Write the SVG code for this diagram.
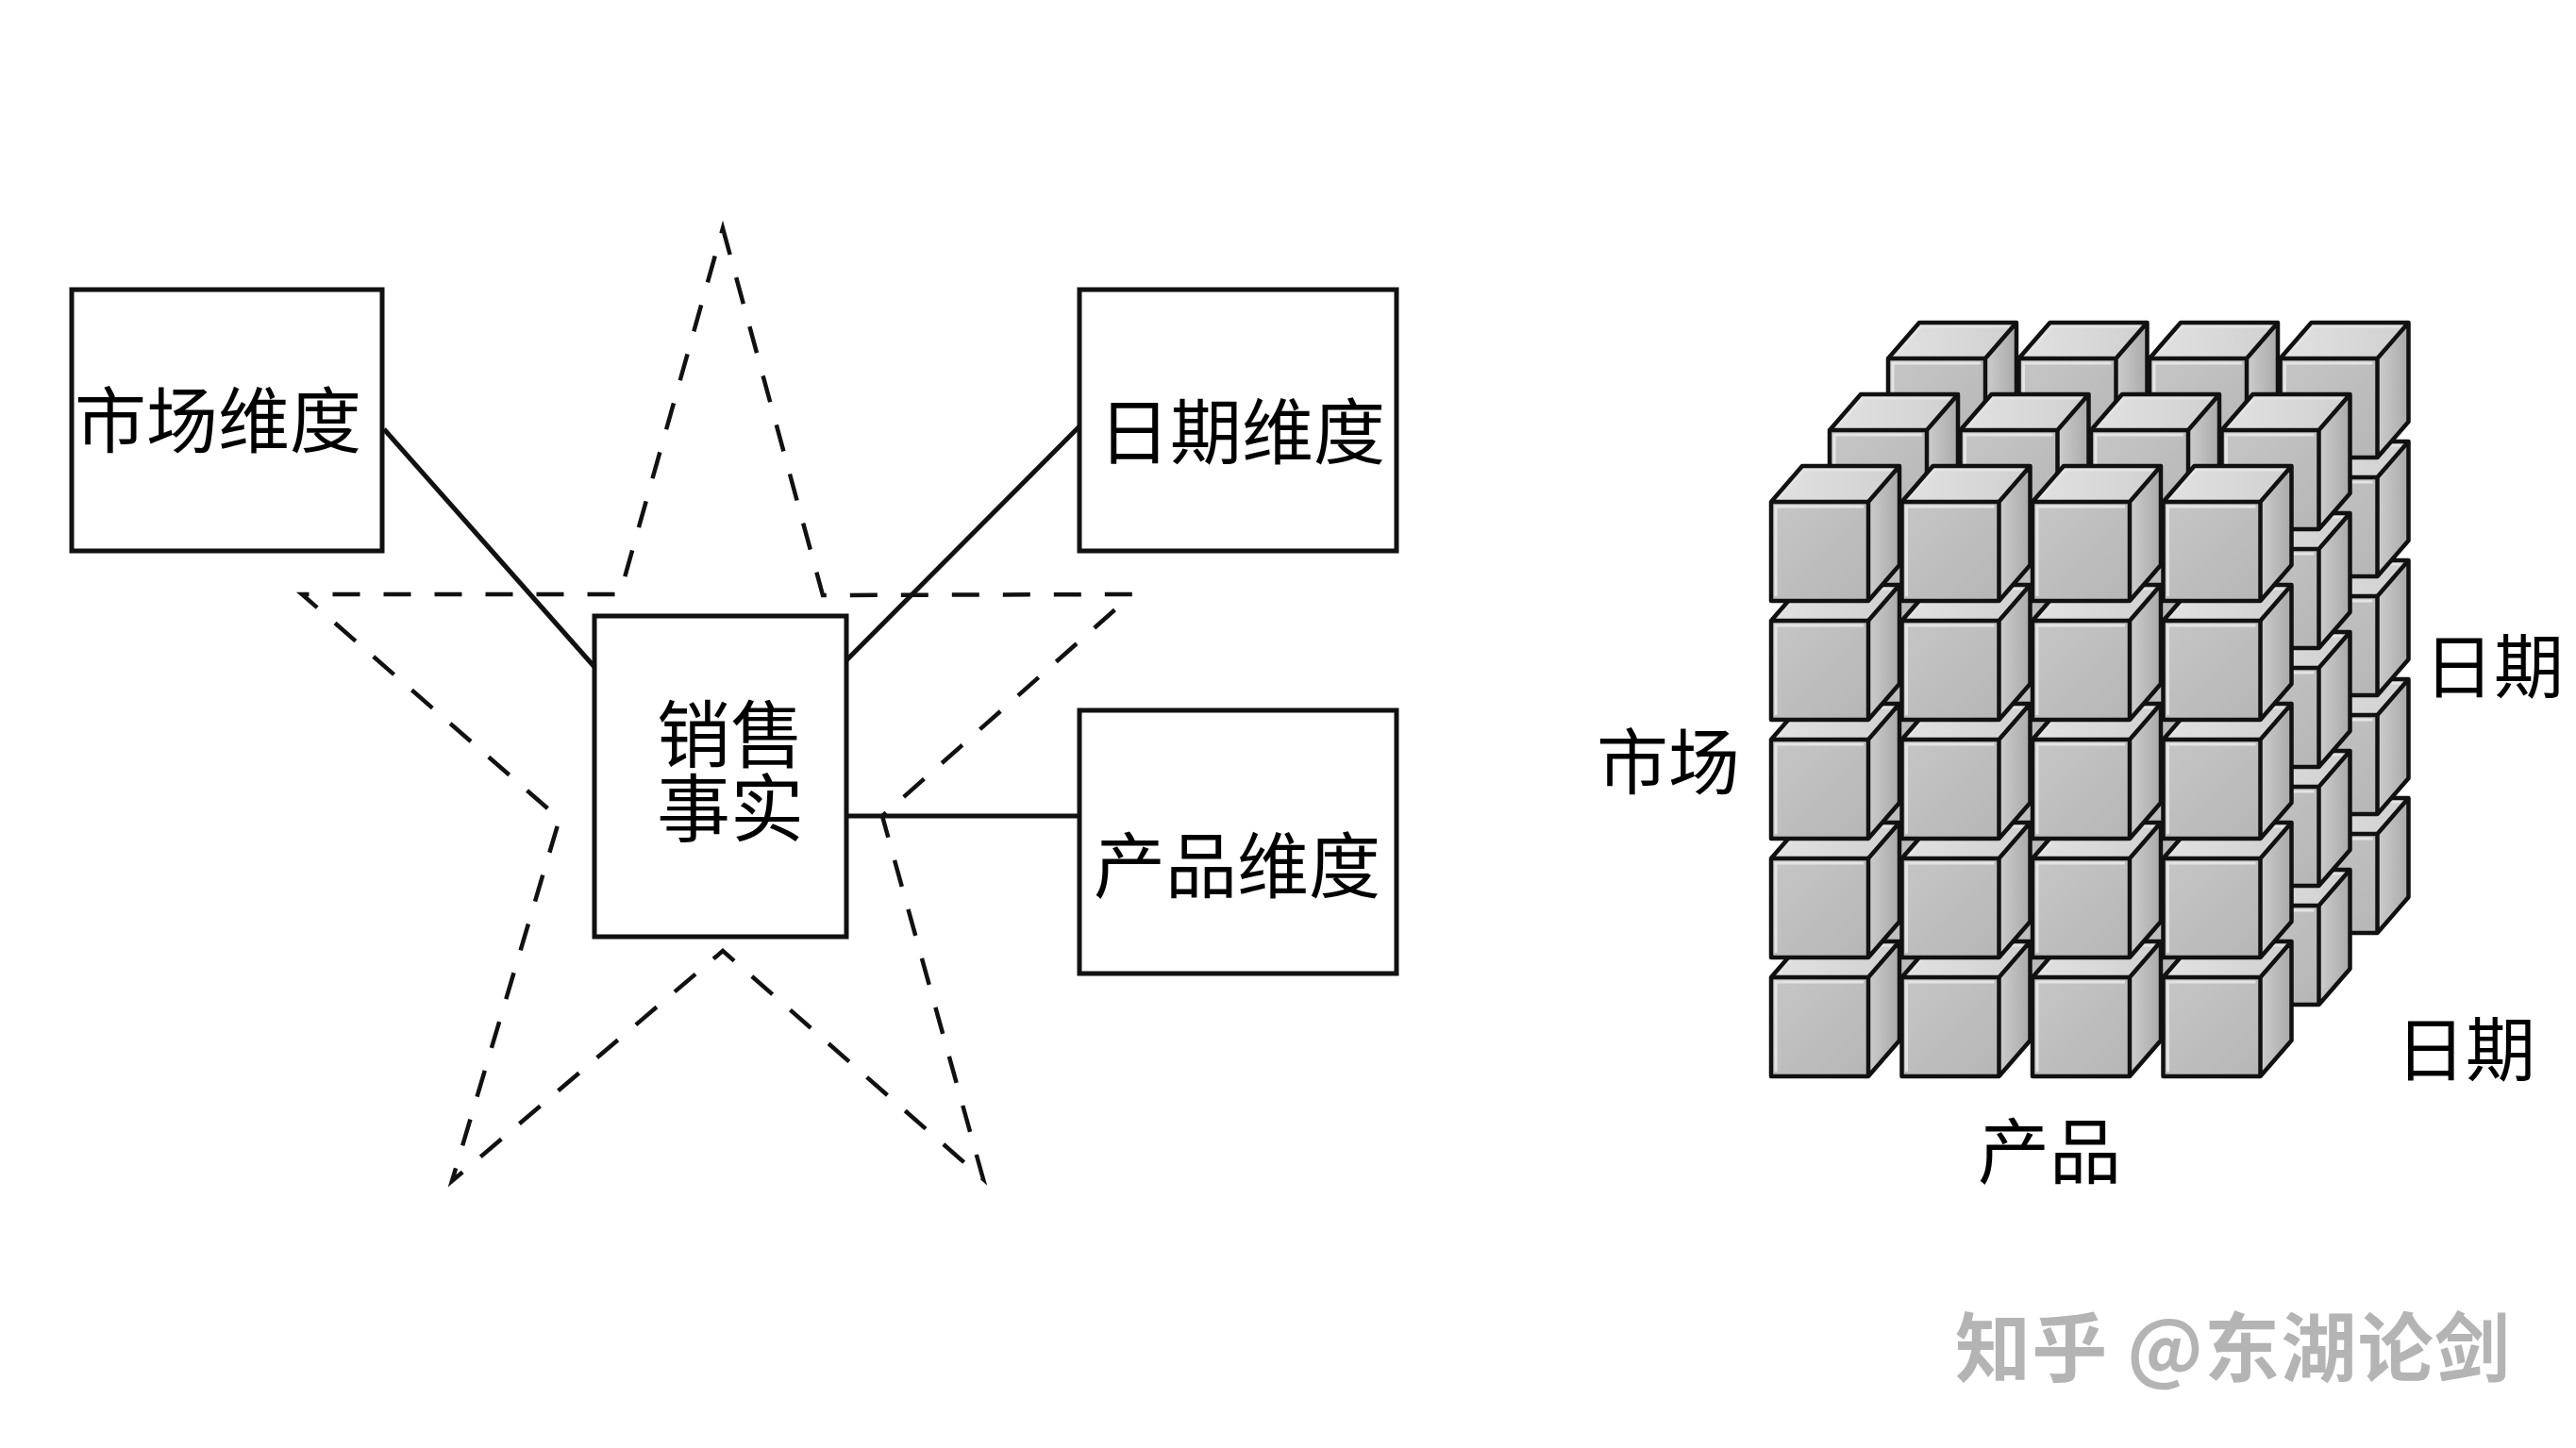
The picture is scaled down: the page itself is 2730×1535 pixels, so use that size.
<svg xmlns="http://www.w3.org/2000/svg" width="2730" height="1535" viewBox="0 0 2730 1535">
<style>
.box{fill:#fff;stroke:#111;stroke-width:5}
.lbl{font-family:"Noto Sans CJK SC","Noto Sans",sans-serif;fill:#000;text-anchor:middle}
.conn{stroke:#111;stroke-width:5;fill:none}
.star{fill:none;stroke:#111;stroke-width:4.5;stroke-dasharray:29 25;stroke-linejoin:miter}
.edge{fill:none;stroke:#111;stroke-width:4.5;stroke-linejoin:round}
.hl{fill:none;stroke:#e4e4e4;stroke-width:3}
.wm{font-family:"Noto Sans CJK SC","Noto Sans",sans-serif;font-weight:700;fill:#b4b4b4}
</style>
<defs>
<linearGradient id="gf" x1="0" y1="0" x2="1" y2="1"><stop offset="0" stop-color="#c6c6c6"/><stop offset="1" stop-color="#b6b6b6"/></linearGradient>
<linearGradient id="gt" x1="0" y1="0" x2="1" y2="0"><stop offset="0" stop-color="#e2e2e2"/><stop offset="1" stop-color="#d0d0d0"/></linearGradient>
<linearGradient id="gs" x1="0" y1="0" x2="1" y2="0"><stop offset="0" stop-color="#cdcdcd"/><stop offset="1" stop-color="#a9a9a9"/></linearGradient>
<g id="cube">
<path d="M0,0 L33,-38 L136,-38 L103,0 Z" fill="url(#gt)"/>
<path d="M103,0 L136,-38 L136,67 L103,105 Z" fill="url(#gs)"/>
<rect x="0" y="0" width="103" height="105" fill="url(#gf)"/>
<path class="hl" d="M5,100 L5,5 L98,5"/>
<path class="hl" d="M8,-4 L35,-34 L128,-34"/>
<path class="edge" d="M0,0 L33,-38 L136,-38 L136,67 L103,105 L0,105 Z M0,0 L103,0 L136,-38 M103,0 L103,105"/>
</g>
</defs>
<rect x="0" y="0" width="2730" height="1535" fill="#fff"/>

<g id="star">
<polygon class="star" points="766,242 872,631 1200,630 935,865 1042,1250 766,1008 479,1252 593,868 320,630 657,630"/>
</g>

<g id="connectors">
<line class="conn" x1="407" y1="455" x2="630" y2="707"/>
<line class="conn" x1="897" y1="700" x2="1144" y2="452"/>
<line class="conn" x1="897" y1="865" x2="1144" y2="865"/>
</g>

<g id="market-dim">
<rect class="box" x="76" y="307" width="329" height="277"/>
<text class="lbl" x="231" y="474" font-size="76">市场维度</text>
</g>
<g id="date-dim">
<rect class="box" x="1144" y="307" width="336" height="277"/>
<text class="lbl" x="1316" y="486" font-size="76">日期维度</text>
</g>
<g id="product-dim">
<rect class="box" x="1144" y="753" width="336" height="279"/>
<text class="lbl" x="1311" y="946" font-size="76">产品维度</text>
</g>
<g id="sales-fact">
<rect class="box" x="630" y="653" width="267" height="340"/>
<text class="lbl" font-size="78"><tspan x="774" y="808">销售</tspan><tspan x="774" y="886">事实</tspan></text>
</g>

<g id="cube-grid">
<!-- back layer -->
<use href="#cube" x="2001" y="884"/><use href="#cube" x="2001" y="758"/><use href="#cube" x="2001" y="632"/><use href="#cube" x="2001" y="506"/><use href="#cube" x="2001" y="380"/>
<use href="#cube" x="2139.5" y="884"/><use href="#cube" x="2139.5" y="758"/><use href="#cube" x="2139.5" y="632"/><use href="#cube" x="2139.5" y="506"/><use href="#cube" x="2139.5" y="380"/>
<use href="#cube" x="2278" y="884"/><use href="#cube" x="2278" y="758"/><use href="#cube" x="2278" y="632"/><use href="#cube" x="2278" y="506"/><use href="#cube" x="2278" y="380"/>
<use href="#cube" x="2416.5" y="884"/><use href="#cube" x="2416.5" y="758"/><use href="#cube" x="2416.5" y="632"/><use href="#cube" x="2416.5" y="506"/><use href="#cube" x="2416.5" y="380"/>
<!-- middle layer -->
<use href="#cube" x="1939" y="960"/><use href="#cube" x="1939" y="834"/><use href="#cube" x="1939" y="708"/><use href="#cube" x="1939" y="582"/><use href="#cube" x="1939" y="456"/>
<use href="#cube" x="2077.5" y="960"/><use href="#cube" x="2077.5" y="834"/><use href="#cube" x="2077.5" y="708"/><use href="#cube" x="2077.5" y="582"/><use href="#cube" x="2077.5" y="456"/>
<use href="#cube" x="2216" y="960"/><use href="#cube" x="2216" y="834"/><use href="#cube" x="2216" y="708"/><use href="#cube" x="2216" y="582"/><use href="#cube" x="2216" y="456"/>
<use href="#cube" x="2354.5" y="960"/><use href="#cube" x="2354.5" y="834"/><use href="#cube" x="2354.5" y="708"/><use href="#cube" x="2354.5" y="582"/><use href="#cube" x="2354.5" y="456"/>
<!-- front layer -->
<use href="#cube" x="1877" y="1036"/><use href="#cube" x="1877" y="910"/><use href="#cube" x="1877" y="784"/><use href="#cube" x="1877" y="658"/><use href="#cube" x="1877" y="532"/>
<use href="#cube" x="2015.5" y="1036"/><use href="#cube" x="2015.5" y="910"/><use href="#cube" x="2015.5" y="784"/><use href="#cube" x="2015.5" y="658"/><use href="#cube" x="2015.5" y="532"/>
<use href="#cube" x="2154" y="1036"/><use href="#cube" x="2154" y="910"/><use href="#cube" x="2154" y="784"/><use href="#cube" x="2154" y="658"/><use href="#cube" x="2154" y="532"/>
<use href="#cube" x="2292.5" y="1036"/><use href="#cube" x="2292.5" y="910"/><use href="#cube" x="2292.5" y="784"/><use href="#cube" x="2292.5" y="658"/><use href="#cube" x="2292.5" y="532"/>
</g>

<g id="cube-labels">
<text class="lbl" x="1768" y="836" font-size="76">市场</text>
<text class="lbl" x="2643" y="734" font-size="74">日期</text>
<text class="lbl" x="2613" y="1140" font-size="74">日期</text>
<text class="lbl" x="2172" y="1249" font-size="76">产品</text>
</g>

<g id="watermark">
<text class="wm" x="2072" y="1458" font-size="80" textLength="588" lengthAdjust="spacing">知乎 @东湖论剑</text>
</g>
</svg>
